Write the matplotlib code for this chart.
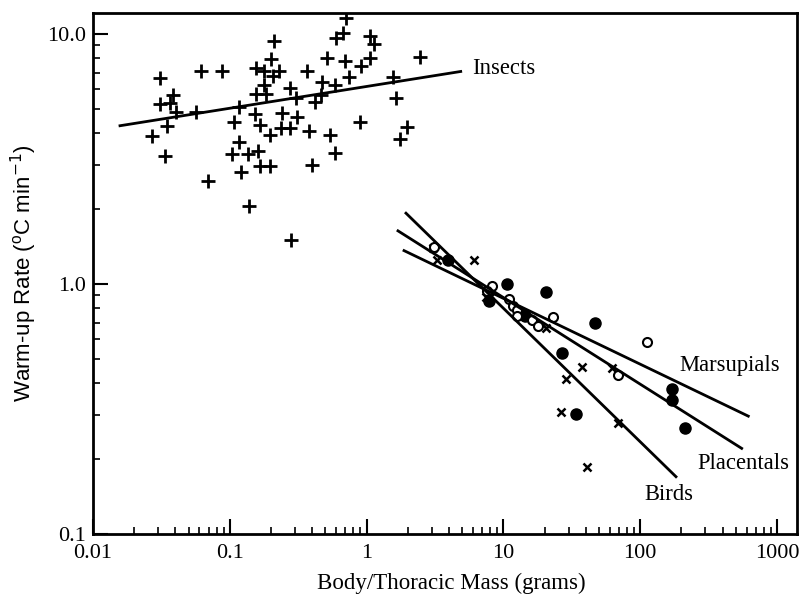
import matplotlib
matplotlib.use('Agg')
import matplotlib.pyplot as plt

# Datos (escala log-log)
insect_mass = [0.0309, 0.0309, 0.0382, 0.0365, 0.0349, 0.0270, 0.0336, 0.0404, 0.0566, 0.0616,
               0.0873, 0.1173, 0.1073, 0.1168, 0.1038, 0.1208, 0.0697, 0.1381, 0.1351, 0.1546,
               0.1788, 0.230, 0.208, 0.2114, 0.199, 0.1788, 0.1546, 0.1830, 0.152, 0.167,
               0.1968, 0.1608, 0.167, 0.1968, 0.2407, 0.2379, 0.2754, 0.3083, 0.2754, 0.3048,
               0.3685, 0.3793, 0.401, 0.2787, 0.4196, 0.4746, 0.4619, 0.5875, 0.5133, 0.5428,
               0.5875, 0.6918, 0.747, 0.6006, 0.672, 0.7035, 0.910, 1.054, 1.133, 1.054,
               0.890, 1.551, 1.649, 1.984, 1.746, 2.444]
insect_rate = [6.65, 5.25, 5.70, 5.28, 4.29, 3.91, 3.25, 4.88, 4.89, 7.07,
               7.11, 5.12, 4.42, 3.71, 3.30, 2.80, 2.57, 2.05, 3.30, 7.29,
               7.13, 7.13, 6.79, 9.38, 7.92, 6.25, 5.74, 5.75, 4.77, 4.33,
               3.94, 3.41, 2.96, 2.96, 4.82, 4.20, 4.20, 4.67, 6.10, 5.56,
               7.11, 4.09, 2.99, 1.50, 5.33, 6.41, 5.67, 6.25, 8.00, 3.94,
               3.35, 7.80, 6.69, 9.61, 10.07, 11.56, 7.45, 9.82, 9.12, 8.00,
               4.42, 6.69, 5.53, 4.26, 3.81, 8.11]

bird_mass = [3.07, 3.25, 6.10, 7.46, 7.98, 20.4, 37.4, 28.5, 62.5, 26.4, 69.2, 40.6]
bird_rate = [1.39, 1.25, 1.25, 0.89, 0.89, 0.665, 0.467, 0.417, 0.463, 0.308, 0.279, 0.185]

plac_mass = [3.96, 10.57, 7.89, 20.4, 14.4, 46.7, 26.9, 33.8, 171.6, 172, 212.6]
plac_rate = [1.25, 0.997, 0.855, 0.927, 0.745, 0.696, 0.528, 0.302, 0.379, 0.344, 0.266]

mars_mass = [3.13, 8.21, 7.63, 10.99, 11.81, 12.64, 12.5, 16.1, 18.0, 22.9, 111.6, 68.5]
mars_rate = [1.40, 0.984, 0.94, 0.869, 0.817, 0.787, 0.745, 0.718, 0.679, 0.736, 0.584, 0.433]

# Rectas de regresion (extremos)
insect_fit_x = [0.01575, 4.875]
insect_fit_y = [4.29, 7.07]
bird_fit_x = [1.94, 182.7]
bird_fit_y = [1.918, 0.1695]
plac_fit_x = [1.696, 552]
plac_fit_y = [1.63, 0.220]
mars_fit_x = [1.877, 617]
mars_fit_y = [1.359, 0.296]

serif = ['Liberation Serif', 'DejaVu Serif']
plt.rcParams['font.family'] = serif
plt.rcParams['mathtext.fontset'] = 'custom'
plt.rcParams['mathtext.rm'] = 'Liberation Sans Narrow'
plt.rcParams['mathtext.it'] = 'Liberation Sans Narrow'

fig = plt.figure(figsize=(8.11, 5.96), dpi=100)
ax = fig.add_axes([0.1147, 0.104, 0.868, 0.874])

ax.plot(insect_mass, insect_rate, '+', color='black', ms=10, mew=2)
ax.plot(bird_mass, bird_rate, 'x', color='black', ms=6, mew=1.8)
ax.plot(plac_mass, plac_rate, 'o', color='black', ms=8)
ax.plot(mars_mass, mars_rate, 'o', color='black', mfc='white', ms=6.5, mew=1.5)

for fx, fy in [(insect_fit_x, insect_fit_y), (bird_fit_x, bird_fit_y),
               (plac_fit_x, plac_fit_y), (mars_fit_x, mars_fit_y)]:
    ax.plot(fx, fy, color='black', lw=2)

ax.set_xscale('log')
ax.set_yscale('log')
ax.set_xlim(0.01, 1400)
ax.set_ylim(0.1, 12.1)

ax.set_xticks([0.01, 0.1, 1, 10, 100, 1000])
ax.set_xticklabels(['0.01', '0.1', '1', '10', '100', '1000'])
ax.set_yticks([0.1, 1, 10])
ax.set_yticklabels(['0.1', '1.0', '10.0'])
ax.tick_params(which='both', direction='in', top=False, right=False, labelsize=16)
ax.tick_params(which='major', length=11, width=1.5)
ax.tick_params(which='minor', length=5, width=1.2)
ax.tick_params(axis='x', pad=7)
ax.tick_params(axis='y', pad=5)
for s in ax.spines.values():
    s.set_linewidth(2)

ax.text(5.89, 7.24, 'Insects', fontsize=16.3, va='center')
ax.text(192, 0.474, 'Marsupials', fontsize=16.3, va='center')
ax.text(264, 0.192, 'Placentals', fontsize=16.3, va='center')
ax.text(108, 0.1445, 'Birds', fontsize=16.3, va='center')

ax.set_xlabel('Body/Thoracic Mass (grams)', fontsize=16.5)
ax.xaxis.set_label_coords(0.509, -0.075)
ax.set_ylabel('Warm-up Rate ($\\mathregular{^{o}}$C min$^{-1}$)', fontsize=16,
              family=['Liberation Sans Narrow', 'Liberation Sans'], labelpad=6)

plt.savefig('out.png', dpi=100)
